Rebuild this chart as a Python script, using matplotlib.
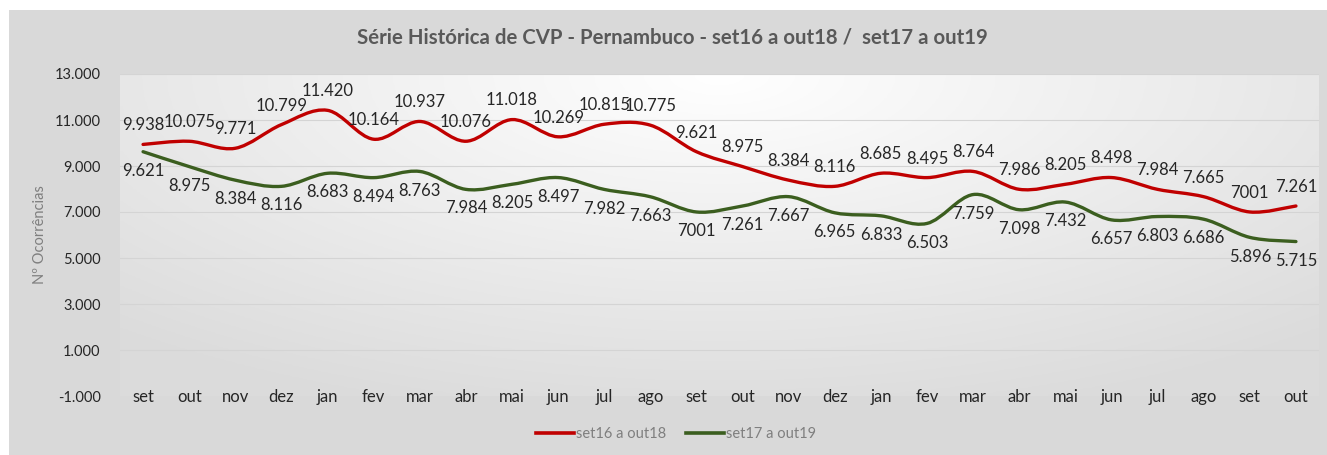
import numpy as np
import matplotlib.pyplot as plt
from matplotlib.path import Path
from matplotlib.patches import PathPatch, Rectangle
from matplotlib.lines import Line2D

plt.rcParams['font.family'] = ['Lato', 'DejaVu Sans']

meses = ["set", "out", "nov", "dez", "jan", "fev", "mar", "abr", "mai", "jun", "jul", "ago",
         "set", "out", "nov", "dez", "jan", "fev", "mar", "abr", "mai", "jun", "jul", "ago",
         "set", "out"]
serie_16_18 = [9938, 10075, 9771, 10799, 11420, 10164, 10937, 10076, 11018, 10269, 10815, 10775,
               9621, 8975, 8384, 8116, 8685, 8495, 8764, 7986, 8205, 8498, 7984, 7665, 7001, 7261]
serie_17_19 = [9621, 8975, 8384, 8116, 8683, 8494, 8763, 7984, 8205, 8497, 7982, 7663,
               7001, 7261, 7667, 6965, 6833, 6503, 7759, 7098, 7432, 6657, 6803, 6686, 5896, 5715]
y_ticks = [-1000, 1000, 3000, 5000, 7000, 9000, 11000, 13000]


def fmt(v):
    if v == 7001:
        return "7001"  # label shown without separator in the original
    return f"{v:,}".replace(",", ".")


def smooth_path(xs, ys):
    # Catmull-Rom -> cubic Bezier segments, drawn by matplotlib
    xs = np.asarray(xs, float)
    ys = np.asarray(ys, float)
    verts = [(xs[0], ys[0])]
    codes = [Path.MOVETO]
    n = len(xs)
    for i in range(n - 1):
        x0, y0 = (xs[i - 1], ys[i - 1]) if i > 0 else (xs[i], ys[i])
        x1, y1 = xs[i], ys[i]
        x2, y2 = xs[i + 1], ys[i + 1]
        x3, y3 = (xs[i + 2], ys[i + 2]) if i + 2 < n else (x2, y2)
        t = 1 / 6
        verts += [(x1 + (x2 - x0) * t, y1 + (y2 - y0) * t),
                  (x2 - (x3 - x1) * t, y2 - (y3 - y1) * t),
                  (x2, y2)]
        codes += [Path.CURVE4] * 3
    return Path(verts, codes)


fig = plt.figure(figsize=(13.27, 4.55), dpi=100)
fig.patch.set_facecolor("white")
fig.patches.append(Rectangle((9 / 1327, 0), 1 - 9 / 1327, 1 - 10 / 455,
                             transform=fig.transFigure, facecolor="#d9d9d9",
                             edgecolor="none", zorder=-5))

ax = fig.add_axes([120 / 1327, 1 - 396 / 455, 1199 / 1327, 322 / 455])
ax.set_facecolor("none")

# background gradient of the plot area
gx, gy = np.meshgrid(np.linspace(0, 1, 300), np.linspace(0, 1, 120))
r = np.sqrt(((gx - 0.5) / 0.75) ** 2 + ((1 - gy) / 1.1) ** 2)
shade = np.clip(1 - 0.14 * r, 0.86, 1.0)
ax.imshow(np.dstack([shade] * 3), extent=[0, 1, 0, 1], transform=ax.transAxes,
          aspect="auto", origin="lower", zorder=0)

x = np.arange(len(meses))
ax.set_xlim(-0.5, len(meses) - 0.5)
ax.set_ylim(-1000, 13000)

for yv in y_ticks[1:]:
    ax.axhline(yv, color="#d4d4d4", linewidth=0.8, zorder=1)

ax.add_patch(PathPatch(smooth_path(x, serie_16_18), facecolor="none",
                       edgecolor="#c00000", linewidth=2.4, zorder=3,
                       capstyle="round"))
ax.add_patch(PathPatch(smooth_path(x, serie_17_19), facecolor="none",
                       edgecolor="#3b5e1f", linewidth=2.4, zorder=3,
                       capstyle="round"))

for xi, v in zip(x, serie_16_18):
    ax.annotate(fmt(v), (xi, v), xytext=(0, 8), textcoords="offset points",
                ha="center", va="bottom", fontsize=12, color="#262626", zorder=4)
for xi, v in zip(x, serie_17_19):
    ax.annotate(fmt(v), (xi, v), xytext=(0, -8), textcoords="offset points",
                ha="center", va="top", fontsize=12, color="#262626", zorder=4)

ax.set_yticks(y_ticks)
ax.set_yticklabels([fmt(v) for v in y_ticks])
ax.set_xticks(x)
ax.set_xticklabels(meses)
ax.tick_params(axis="y", length=0, labelsize=10.5, labelcolor="#262626", pad=14)
ax.tick_params(axis="x", length=0, labelsize=12, labelcolor="#262626", pad=-5)
for s in ax.spines.values():
    s.set_visible(False)

fig.text(40 / 1327, 1 - 235 / 455, "Nº Ocorrências", rotation=90, ha="center",
         va="center", fontsize=10.5, color="#7f7f7f")
fig.text(672 / 1327, 1 - 38 / 455,
         "Série Histórica de CVP - Pernambuco - set16 a out18 /  set17 a out19",
         ha="center", va="center", fontsize=14.7, fontweight="bold", color="#595959")

handles = [Line2D([], [], color="#c00000", linewidth=2.6),
           Line2D([], [], color="#3b5e1f", linewidth=2.6)]
fig.legend(handles, ["set16 a out18", "set17 a out19"], loc="center",
           bbox_to_anchor=(676 / 1327, 1 - 434 / 455), ncol=2, frameon=False,
           fontsize=10.5, labelcolor="#7f7f7f", handlelength=2.6, handletextpad=0.1,
           columnspacing=1.4)

fig.savefig("out.png", dpi=100)
